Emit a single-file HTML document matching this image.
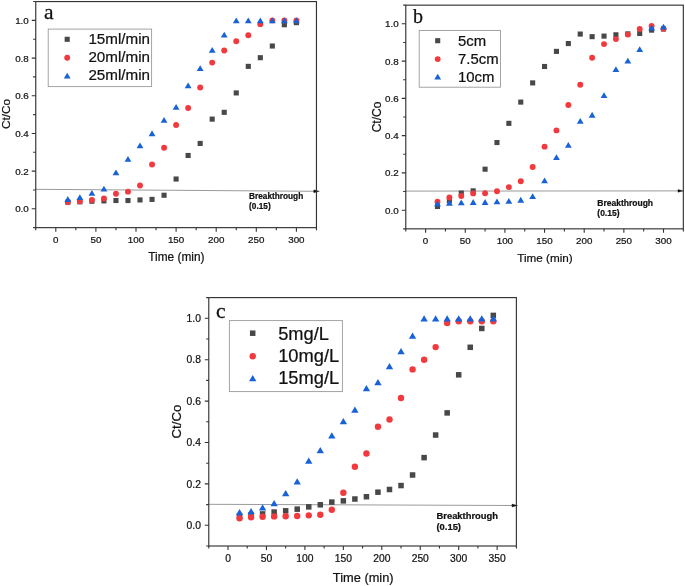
<!DOCTYPE html>
<html><head><meta charset="utf-8"><style>
html,body{margin:0;padding:0;background:#fff;}
svg{display:block;filter:blur(0.3px);}
text{font-family:"Liberation Sans",sans-serif;fill:#111;stroke:#111;stroke-width:0.22px;}
text.serif{font-family:"Liberation Serif",serif;fill:#111;stroke:#111;stroke-width:0.25px;}
</style></head><body>
<svg width="685" height="586" viewBox="0 0 685 586">
<rect width="685" height="586" fill="#fff"/>
<g id="pa"><line x1="35.8" y1="189.3" x2="314.2" y2="191.3" stroke="#9a9a9a" stroke-width="1"/><path d="M319.4 191.3L313.9 189.85Q313.3 191.3 313.9 192.75Z" fill="#111" stroke="#111" stroke-width="0.3"/><rect x="65.28" y="199.66" width="5.1" height="5.1" fill="#484848"/><rect x="77.31" y="199.28" width="5.1" height="5.1" fill="#484848"/><rect x="89.34" y="198.71" width="5.1" height="5.1" fill="#484848"/><rect x="101.37" y="198.34" width="5.1" height="5.1" fill="#484848"/><rect x="113.4" y="197.96" width="5.1" height="5.1" fill="#484848"/><rect x="125.43" y="197.96" width="5.1" height="5.1" fill="#484848"/><rect x="137.46" y="197.4" width="5.1" height="5.1" fill="#484848"/><rect x="149.49" y="196.83" width="5.1" height="5.1" fill="#484848"/><rect x="161.52" y="192.69" width="5.1" height="5.1" fill="#484848"/><rect x="173.55" y="176.48" width="5.1" height="5.1" fill="#484848"/><rect x="185.58" y="152.93" width="5.1" height="5.1" fill="#484848"/><rect x="197.61" y="140.88" width="5.1" height="5.1" fill="#484848"/><rect x="209.64" y="116.57" width="5.1" height="5.1" fill="#484848"/><rect x="221.67" y="109.79" width="5.1" height="5.1" fill="#484848"/><rect x="233.7" y="90.38" width="5.1" height="5.1" fill="#484848"/><rect x="245.73" y="63.82" width="5.1" height="5.1" fill="#484848"/><rect x="257.76" y="55.15" width="5.1" height="5.1" fill="#484848"/><rect x="269.79" y="43.47" width="5.1" height="5.1" fill="#484848"/><rect x="281.82" y="22.18" width="5.1" height="5.1" fill="#484848"/><rect x="293.85" y="20.11" width="5.1" height="5.1" fill="#484848"/><circle cx="67.83" cy="202.02" r="2.95" fill="#f23a3e"/><circle cx="79.86" cy="201.26" r="2.95" fill="#f23a3e"/><circle cx="91.89" cy="199.95" r="2.95" fill="#f23a3e"/><circle cx="103.92" cy="198.44" r="2.95" fill="#f23a3e"/><circle cx="115.95" cy="193.73" r="2.95" fill="#f23a3e"/><circle cx="127.98" cy="191.66" r="2.95" fill="#f23a3e"/><circle cx="140.01" cy="185.44" r="2.95" fill="#f23a3e"/><circle cx="152.04" cy="164.53" r="2.95" fill="#f23a3e"/><circle cx="164.07" cy="147.76" r="2.95" fill="#f23a3e"/><circle cx="176.1" cy="124.96" r="2.95" fill="#f23a3e"/><circle cx="188.13" cy="108.01" r="2.95" fill="#f23a3e"/><circle cx="200.16" cy="87.47" r="2.95" fill="#f23a3e"/><circle cx="212.19" cy="62.6" r="2.95" fill="#f23a3e"/><circle cx="224.22" cy="50.54" r="2.95" fill="#f23a3e"/><circle cx="236.25" cy="41.31" r="2.95" fill="#f23a3e"/><circle cx="248.28" cy="35.28" r="2.95" fill="#f23a3e"/><circle cx="260.31" cy="24.17" r="2.95" fill="#f23a3e"/><circle cx="272.34" cy="20.4" r="2.95" fill="#f23a3e"/><circle cx="284.37" cy="20.4" r="2.95" fill="#f23a3e"/><circle cx="296.4" cy="20.4" r="2.95" fill="#f23a3e"/><path d="M67.83 196.1L71.23 201.9L64.43 201.9Z" fill="#1862d8"/><path d="M79.86 194.22L83.26 200.02L76.46 200.02Z" fill="#1862d8"/><path d="M91.89 190.07L95.29 195.87L88.49 195.87Z" fill="#1862d8"/><path d="M103.92 185.74L107.32 191.54L100.52 191.54Z" fill="#1862d8"/><path d="M115.95 169.54L119.35 175.34L112.55 175.34Z" fill="#1862d8"/><path d="M127.98 155.97L131.38 161.77L124.58 161.77Z" fill="#1862d8"/><path d="M140.01 142.41L143.41 148.21L136.61 148.21Z" fill="#1862d8"/><path d="M152.04 130.35L155.44 136.15L148.64 136.15Z" fill="#1862d8"/><path d="M164.07 116.98L167.47 122.78L160.67 122.78Z" fill="#1862d8"/><path d="M176.1 103.98L179.5 109.78L172.7 109.78Z" fill="#1862d8"/><path d="M188.13 82.5L191.53 88.3L184.73 88.3Z" fill="#1862d8"/><path d="M200.16 65.17L203.56 70.97L196.76 70.97Z" fill="#1862d8"/><path d="M212.19 46.89L215.59 52.69L208.79 52.69Z" fill="#1862d8"/><path d="M224.22 31.63L227.62 37.43L220.82 37.43Z" fill="#1862d8"/><path d="M236.25 17.5L239.65 23.3L232.85 23.3Z" fill="#1862d8"/><path d="M248.28 17.5L251.68 23.3L244.88 23.3Z" fill="#1862d8"/><path d="M260.31 17.5L263.71 23.3L256.91 23.3Z" fill="#1862d8"/><path d="M272.34 17.5L275.74 23.3L268.94 23.3Z" fill="#1862d8"/><path d="M284.37 17.5L287.77 23.3L280.97 23.3Z" fill="#1862d8"/><path d="M296.4 17.5L299.8 23.3L293 23.3Z" fill="#1862d8"/><rect x="35.75" y="1.56" width="280.7" height="226.08" fill="none" stroke="#333333" stroke-width="1.15"/><path d="M35.75 227.64h-2.6M35.75 208.8h-4M35.75 189.96h-2.6M35.75 171.12h-4M35.75 152.28h-2.6M35.75 133.44h-4M35.75 114.6h-2.6M35.75 95.76h-4M35.75 76.92h-2.6M35.75 58.08h-4M35.75 39.24h-2.6M35.75 20.4h-4M35.75 1.56h-2.6M35.75 227.64v2.6M55.8 227.64v4M75.85 227.64v2.6M95.9 227.64v4M115.95 227.64v2.6M136 227.64v4M156.05 227.64v2.6M176.1 227.64v4M196.15 227.64v2.6M216.2 227.64v4M236.25 227.64v2.6M256.3 227.64v4M276.35 227.64v2.6M296.4 227.64v4M316.45 227.64v2.6" stroke="#333333" stroke-width="1.1" fill="none"/><text x="28.8" y="212.23" text-anchor="end" font-size="9.8">0.0</text><text x="28.8" y="174.55" text-anchor="end" font-size="9.8">0.2</text><text x="28.8" y="136.87" text-anchor="end" font-size="9.8">0.4</text><text x="28.8" y="99.19" text-anchor="end" font-size="9.8">0.6</text><text x="28.8" y="61.51" text-anchor="end" font-size="9.8">0.8</text><text x="28.8" y="23.83" text-anchor="end" font-size="9.8">1.0</text><text x="55.8" y="242.8" text-anchor="middle" font-size="9.8">0</text><text x="95.9" y="242.8" text-anchor="middle" font-size="9.8">50</text><text x="136" y="242.8" text-anchor="middle" font-size="9.8">100</text><text x="176.1" y="242.8" text-anchor="middle" font-size="9.8">150</text><text x="216.2" y="242.8" text-anchor="middle" font-size="9.8">200</text><text x="256.3" y="242.8" text-anchor="middle" font-size="9.8">250</text><text x="296.4" y="242.8" text-anchor="middle" font-size="9.8">300</text><text transform="translate(10.2 114) rotate(-90)" text-anchor="middle" font-size="11.8">Ct/Co</text><text x="176.4" y="260.8" text-anchor="middle" font-size="11.85">Time (min)</text><text transform="translate(44.1 18.9) scale(1.05 1)" class="serif" font-size="20.5">a</text><text x="249.1" y="199.4" font-weight="bold" font-size="8.25">Breakthrough</text><text x="249.1" y="209.3" font-weight="bold" font-size="8.25">(0.15)</text><rect x="48.2" y="29.1" width="103.4" height="57.5" fill="#fff" stroke="#9a9a9a" stroke-width="0.9"/><rect x="64.65" y="36.75" width="5.1" height="5.1" fill="#484848"/><circle cx="67.2" cy="57.7" r="2.95" fill="#f23a3e"/><path d="M67.2 72.8L70.6 78.6L63.8 78.6Z" fill="#1862d8"/><text x="88.4" y="44.1" font-size="15.2">15ml/min</text><text x="88.4" y="62.2" font-size="15.2">20ml/min</text><text x="88.4" y="80.3" font-size="15.2">25ml/min</text></g>
<g id="pb"><line x1="405.8" y1="191.1" x2="678.4" y2="190.9" stroke="#9a9a9a" stroke-width="1"/><path d="M683.6 190.9L678.1 189.45Q677.5 190.9 678.1 192.35Z" fill="#111" stroke="#111" stroke-width="0.3"/><rect x="434.94" y="203.92" width="5.1" height="5.1" fill="#484848"/><rect x="446.84" y="198.33" width="5.1" height="5.1" fill="#484848"/><rect x="458.74" y="190.5" width="5.1" height="5.1" fill="#484848"/><rect x="470.63" y="188.26" width="5.1" height="5.1" fill="#484848"/><rect x="482.53" y="166.64" width="5.1" height="5.1" fill="#484848"/><rect x="494.42" y="139.99" width="5.1" height="5.1" fill="#484848"/><rect x="506.31" y="120.79" width="5.1" height="5.1" fill="#484848"/><rect x="518.21" y="99.54" width="5.1" height="5.1" fill="#484848"/><rect x="530.11" y="80.34" width="5.1" height="5.1" fill="#484848"/><rect x="542" y="63.94" width="5.1" height="5.1" fill="#484848"/><rect x="553.9" y="48.84" width="5.1" height="5.1" fill="#484848"/><rect x="565.79" y="41.01" width="5.1" height="5.1" fill="#484848"/><rect x="577.69" y="31.5" width="5.1" height="5.1" fill="#484848"/><rect x="589.58" y="34.11" width="5.1" height="5.1" fill="#484848"/><rect x="601.48" y="33.55" width="5.1" height="5.1" fill="#484848"/><rect x="613.37" y="32.25" width="5.1" height="5.1" fill="#484848"/><rect x="625.27" y="31.32" width="5.1" height="5.1" fill="#484848"/><rect x="637.16" y="30.94" width="5.1" height="5.1" fill="#484848"/><rect x="649.06" y="27.59" width="5.1" height="5.1" fill="#484848"/><rect x="660.95" y="26.47" width="5.1" height="5.1" fill="#484848"/><circle cx="437.5" cy="201.63" r="2.95" fill="#f23a3e"/><circle cx="449.39" cy="197.52" r="2.95" fill="#f23a3e"/><circle cx="461.29" cy="196.03" r="2.95" fill="#f23a3e"/><circle cx="473.18" cy="193.42" r="2.95" fill="#f23a3e"/><circle cx="485.08" cy="193.24" r="2.95" fill="#f23a3e"/><circle cx="496.97" cy="191.19" r="2.95" fill="#f23a3e"/><circle cx="508.87" cy="187.09" r="2.95" fill="#f23a3e"/><circle cx="520.76" cy="181.31" r="2.95" fill="#f23a3e"/><circle cx="532.65" cy="166.96" r="2.95" fill="#f23a3e"/><circle cx="544.55" cy="146.64" r="2.95" fill="#f23a3e"/><circle cx="556.45" cy="130.42" r="2.95" fill="#f23a3e"/><circle cx="568.34" cy="105.07" r="2.95" fill="#f23a3e"/><circle cx="580.24" cy="84.75" r="2.95" fill="#f23a3e"/><circle cx="592.13" cy="57.72" r="2.95" fill="#f23a3e"/><circle cx="604.03" cy="44.12" r="2.95" fill="#f23a3e"/><circle cx="615.92" cy="39.08" r="2.95" fill="#f23a3e"/><circle cx="627.82" cy="34.61" r="2.95" fill="#f23a3e"/><circle cx="639.71" cy="29.02" r="2.95" fill="#f23a3e"/><circle cx="651.61" cy="26.04" r="2.95" fill="#f23a3e"/><circle cx="663.5" cy="28.65" r="2.95" fill="#f23a3e"/><path d="M437.5 200.78L440.89 206.58L434.1 206.58Z" fill="#1862d8"/><path d="M449.39 199.84L452.79 205.64L445.99 205.64Z" fill="#1862d8"/><path d="M461.29 199.47L464.69 205.27L457.89 205.27Z" fill="#1862d8"/><path d="M473.18 199.1L476.58 204.9L469.78 204.9Z" fill="#1862d8"/><path d="M485.08 199.1L488.48 204.9L481.68 204.9Z" fill="#1862d8"/><path d="M496.97 198.54L500.37 204.34L493.57 204.34Z" fill="#1862d8"/><path d="M508.87 197.98L512.26 203.78L505.47 203.78Z" fill="#1862d8"/><path d="M520.76 196.86L524.16 202.66L517.36 202.66Z" fill="#1862d8"/><path d="M532.65 193.32L536.05 199.12L529.25 199.12Z" fill="#1862d8"/><path d="M544.55 177.48L547.95 183.28L541.15 183.28Z" fill="#1862d8"/><path d="M556.45 154.18L559.85 159.98L553.05 159.98Z" fill="#1862d8"/><path d="M568.34 142.06L571.74 147.86L564.94 147.86Z" fill="#1862d8"/><path d="M580.24 118.01L583.63 123.81L576.84 123.81Z" fill="#1862d8"/><path d="M592.13 111.86L595.53 117.66L588.73 117.66Z" fill="#1862d8"/><path d="M604.03 92.29L607.43 98.09L600.63 98.09Z" fill="#1862d8"/><path d="M615.92 66.2L619.32 72L612.52 72Z" fill="#1862d8"/><path d="M627.82 57.81L631.22 63.61L624.42 63.61Z" fill="#1862d8"/><path d="M639.71 46.25L643.11 52.05L636.31 52.05Z" fill="#1862d8"/><path d="M651.61 24.81L655 30.61L648.21 30.61Z" fill="#1862d8"/><path d="M663.5 23.7L666.9 29.5L660.1 29.5Z" fill="#1862d8"/><rect x="405.78" y="5.16" width="277.55" height="223.68" fill="none" stroke="#333333" stroke-width="1.15"/><path d="M405.78 228.84h-2.6M405.78 210.2h-4M405.78 191.56h-2.6M405.78 172.92h-4M405.78 154.28h-2.6M405.78 135.64h-4M405.78 117h-2.6M405.78 98.36h-4M405.78 79.72h-2.6M405.78 61.08h-4M405.78 42.44h-2.6M405.78 23.8h-4M405.78 5.16h-2.6M405.78 228.84v2.6M425.6 228.84v4M445.43 228.84v2.6M465.25 228.84v4M485.08 228.84v2.6M504.9 228.84v4M524.73 228.84v2.6M544.55 228.84v4M564.38 228.84v2.6M584.2 228.84v4M604.03 228.84v2.6M623.85 228.84v4M643.68 228.84v2.6M663.5 228.84v4M683.33 228.84v2.6" stroke="#333333" stroke-width="1.1" fill="none"/><text x="398.7" y="213.63" text-anchor="end" font-size="9.8">0.0</text><text x="398.7" y="176.35" text-anchor="end" font-size="9.8">0.2</text><text x="398.7" y="139.07" text-anchor="end" font-size="9.8">0.4</text><text x="398.7" y="101.79" text-anchor="end" font-size="9.8">0.6</text><text x="398.7" y="64.51" text-anchor="end" font-size="9.8">0.8</text><text x="398.7" y="27.23" text-anchor="end" font-size="9.8">1.0</text><text x="425.6" y="243.8" text-anchor="middle" font-size="9.8">0</text><text x="465.25" y="243.8" text-anchor="middle" font-size="9.8">50</text><text x="504.9" y="243.8" text-anchor="middle" font-size="9.8">100</text><text x="544.55" y="243.8" text-anchor="middle" font-size="9.8">150</text><text x="584.2" y="243.8" text-anchor="middle" font-size="9.8">200</text><text x="623.85" y="243.8" text-anchor="middle" font-size="9.8">250</text><text x="663.5" y="243.8" text-anchor="middle" font-size="9.8">300</text><text transform="translate(381.3 117) rotate(-90)" text-anchor="middle" font-size="12">Ct/Co</text><text x="545" y="261.7" text-anchor="middle" font-size="11.7">Time (min)</text><text transform="translate(413.1 22.7) scale(1.0 1)" class="serif" font-size="20">b</text><text x="597.3" y="205.9" font-weight="bold" font-size="8.5">Breakthrough</text><text x="597.3" y="216.2" font-weight="bold" font-size="8.5">(0.15)</text><rect x="419.2" y="30.5" width="81.3" height="56.7" fill="#fff" stroke="#9a9a9a" stroke-width="0.9"/><rect x="435.15" y="38.15" width="5.1" height="5.1" fill="#484848"/><circle cx="437.7" cy="59.1" r="2.95" fill="#f23a3e"/><path d="M437.7 73.7L441.1 79.5L434.3 79.5Z" fill="#1862d8"/><text x="458" y="46" font-size="14.9">5cm</text><text x="458" y="63.8" font-size="14.9">7.5cm</text><text x="458" y="81.6" font-size="14.9">10cm</text></g>
<g id="pc"><line x1="208.8" y1="504.3" x2="512.4" y2="505.5" stroke="#9a9a9a" stroke-width="1"/><path d="M517.6 505.5L512.1 504.05Q511.5 505.5 512.1 506.95Z" fill="#111" stroke="#111" stroke-width="0.3"/><rect x="236.78" y="513.23" width="5.51" height="5.51" fill="#484848"/><rect x="248.32" y="512.2" width="5.51" height="5.51" fill="#484848"/><rect x="259.85" y="511.16" width="5.51" height="5.51" fill="#484848"/><rect x="271.39" y="509.3" width="5.51" height="5.51" fill="#484848"/><rect x="282.92" y="508.06" width="5.51" height="5.51" fill="#484848"/><rect x="294.46" y="506.4" width="5.51" height="5.51" fill="#484848"/><rect x="305.99" y="504.12" width="5.51" height="5.51" fill="#484848"/><rect x="317.53" y="502.05" width="5.51" height="5.51" fill="#484848"/><rect x="329.06" y="499.36" width="5.51" height="5.51" fill="#484848"/><rect x="340.6" y="498.12" width="5.51" height="5.51" fill="#484848"/><rect x="352.13" y="496.26" width="5.51" height="5.51" fill="#484848"/><rect x="363.67" y="493.98" width="5.51" height="5.51" fill="#484848"/><rect x="375.2" y="489.43" width="5.51" height="5.51" fill="#484848"/><rect x="386.74" y="486.73" width="5.51" height="5.51" fill="#484848"/><rect x="398.27" y="482.8" width="5.51" height="5.51" fill="#484848"/><rect x="409.81" y="472.24" width="5.51" height="5.51" fill="#484848"/><rect x="421.34" y="454.86" width="5.51" height="5.51" fill="#484848"/><rect x="432.88" y="432.29" width="5.51" height="5.51" fill="#484848"/><rect x="444.41" y="410.14" width="5.51" height="5.51" fill="#484848"/><rect x="455.95" y="372.06" width="5.51" height="5.51" fill="#484848"/><rect x="467.48" y="344.53" width="5.51" height="5.51" fill="#484848"/><rect x="479.02" y="325.69" width="5.51" height="5.51" fill="#484848"/><rect x="490.55" y="312.65" width="5.51" height="5.51" fill="#484848"/><circle cx="239.53" cy="518.26" r="3.19" fill="#f23a3e"/><circle cx="251.07" cy="517.23" r="3.19" fill="#f23a3e"/><circle cx="262.61" cy="516.81" r="3.19" fill="#f23a3e"/><circle cx="274.14" cy="516.4" r="3.19" fill="#f23a3e"/><circle cx="285.68" cy="516.19" r="3.19" fill="#f23a3e"/><circle cx="297.21" cy="515.98" r="3.19" fill="#f23a3e"/><circle cx="308.75" cy="515.36" r="3.19" fill="#f23a3e"/><circle cx="320.28" cy="514.74" r="3.19" fill="#f23a3e"/><circle cx="331.81" cy="509.77" r="3.19" fill="#f23a3e"/><circle cx="343.35" cy="492.8" r="3.19" fill="#f23a3e"/><circle cx="354.88" cy="466.72" r="3.19" fill="#f23a3e"/><circle cx="366.42" cy="453.47" r="3.19" fill="#f23a3e"/><circle cx="377.96" cy="426.77" r="3.19" fill="#f23a3e"/><circle cx="389.49" cy="419.52" r="3.19" fill="#f23a3e"/><circle cx="401.02" cy="397.99" r="3.19" fill="#f23a3e"/><circle cx="412.56" cy="369.43" r="3.19" fill="#f23a3e"/><circle cx="424.1" cy="359.7" r="3.19" fill="#f23a3e"/><circle cx="435.63" cy="347.07" r="3.19" fill="#f23a3e"/><circle cx="447.16" cy="323.06" r="3.19" fill="#f23a3e"/><circle cx="458.7" cy="321.2" r="3.19" fill="#f23a3e"/><circle cx="470.24" cy="321.2" r="3.19" fill="#f23a3e"/><circle cx="481.77" cy="321.2" r="3.19" fill="#f23a3e"/><circle cx="493.31" cy="321.2" r="3.19" fill="#f23a3e"/><path d="M239.53 508.92L243.21 515.18L235.86 515.18Z" fill="#1862d8"/><path d="M251.07 507.88L254.74 514.15L247.4 514.15Z" fill="#1862d8"/><path d="M262.61 504.16L266.28 510.42L258.93 510.42Z" fill="#1862d8"/><path d="M274.14 500.02L277.81 506.28L270.47 506.28Z" fill="#1862d8"/><path d="M285.68 490.08L289.35 496.35L282 496.35Z" fill="#1862d8"/><path d="M297.21 478.28L300.88 484.55L293.54 484.55Z" fill="#1862d8"/><path d="M308.75 457.38L312.42 463.64L305.07 463.64Z" fill="#1862d8"/><path d="M320.28 447.03L323.95 453.29L316.61 453.29Z" fill="#1862d8"/><path d="M331.81 432.33L335.49 438.59L328.14 438.59Z" fill="#1862d8"/><path d="M343.35 418.05L347.02 424.31L339.68 424.31Z" fill="#1862d8"/><path d="M354.88 406.45L358.56 412.72L351.21 412.72Z" fill="#1862d8"/><path d="M366.42 384.93L370.09 391.19L362.75 391.19Z" fill="#1862d8"/><path d="M377.96 378.92L381.63 385.19L374.28 385.19Z" fill="#1862d8"/><path d="M389.49 362.98L393.16 369.25L385.82 369.25Z" fill="#1862d8"/><path d="M401.02 348.08L404.7 354.34L397.35 354.34Z" fill="#1862d8"/><path d="M412.56 332.56L416.23 338.82L408.89 338.82Z" fill="#1862d8"/><path d="M424.1 315.17L427.77 321.43L420.42 321.43Z" fill="#1862d8"/><path d="M435.63 315.17L439.3 321.43L431.96 321.43Z" fill="#1862d8"/><path d="M447.16 315.17L450.84 321.43L443.49 321.43Z" fill="#1862d8"/><path d="M458.7 315.17L462.37 321.43L455.03 321.43Z" fill="#1862d8"/><path d="M470.24 315.17L473.91 321.43L466.56 321.43Z" fill="#1862d8"/><path d="M481.77 315.17L485.44 321.43L478.1 321.43Z" fill="#1862d8"/><path d="M493.31 315.17L496.98 321.43L489.63 321.43Z" fill="#1862d8"/><rect x="208.78" y="297.6" width="307.6" height="248.4" fill="none" stroke="#333333" stroke-width="1.15"/><path d="M208.78 546h-2.6M208.78 525.3h-4M208.78 504.6h-2.6M208.78 483.9h-4M208.78 463.2h-2.6M208.78 442.5h-4M208.78 421.8h-2.6M208.78 401.1h-4M208.78 380.4h-2.6M208.78 359.7h-4M208.78 339h-2.6M208.78 318.3h-4M208.78 297.6h-2.6M208.78 546v2.6M228 546v4M247.22 546v2.6M266.45 546v4M285.68 546v2.6M304.9 546v4M324.12 546v2.6M343.35 546v4M362.58 546v2.6M381.8 546v4M401.02 546v2.6M420.25 546v4M439.48 546v2.6M458.7 546v4M477.93 546v2.6M497.15 546v4M516.38 546v2.6" stroke="#333333" stroke-width="1.1" fill="none"/><text x="200.9" y="528.9" text-anchor="end" font-size="10.3">0.0</text><text x="200.9" y="487.5" text-anchor="end" font-size="10.3">0.2</text><text x="200.9" y="446.1" text-anchor="end" font-size="10.3">0.4</text><text x="200.9" y="404.7" text-anchor="end" font-size="10.3">0.6</text><text x="200.9" y="363.3" text-anchor="end" font-size="10.3">0.8</text><text x="200.9" y="321.9" text-anchor="end" font-size="10.3">1.0</text><text x="228" y="562.2" text-anchor="middle" font-size="10.3">0</text><text x="266.45" y="562.2" text-anchor="middle" font-size="10.3">50</text><text x="304.9" y="562.2" text-anchor="middle" font-size="10.3">100</text><text x="343.35" y="562.2" text-anchor="middle" font-size="10.3">150</text><text x="381.8" y="562.2" text-anchor="middle" font-size="10.3">200</text><text x="420.25" y="562.2" text-anchor="middle" font-size="10.3">250</text><text x="458.7" y="562.2" text-anchor="middle" font-size="10.3">300</text><text x="497.15" y="562.2" text-anchor="middle" font-size="10.3">350</text><text transform="translate(181.4 421.6) rotate(-90)" text-anchor="middle" font-size="13.3">Ct/Co</text><text x="363.2" y="581.5" text-anchor="middle" font-size="12.8">Time (min)</text><text transform="translate(216 317.9) scale(1.08 1)" class="serif" font-size="20">c</text><text x="436.5" y="519.1" font-weight="bold" font-size="9.4">Breakthrough</text><text x="436.5" y="529.6" font-weight="bold" font-size="9.4">(0.15)</text><rect x="229.4" y="320.6" width="113" height="71" fill="#fff" stroke="#9a9a9a" stroke-width="0.9"/><rect x="249.95" y="330.45" width="5.51" height="5.51" fill="#484848"/><circle cx="252.7" cy="356.3" r="3.19" fill="#f23a3e"/><path d="M252.7 374.97L256.37 381.23L249.03 381.23Z" fill="#1862d8"/><text x="278.2" y="339.6" font-size="18.3">5mg/L</text><text x="278.2" y="361.9" font-size="18.3">10mg/L</text><text x="278.2" y="384.2" font-size="18.3">15mg/L</text></g>
</svg>
</body></html>
